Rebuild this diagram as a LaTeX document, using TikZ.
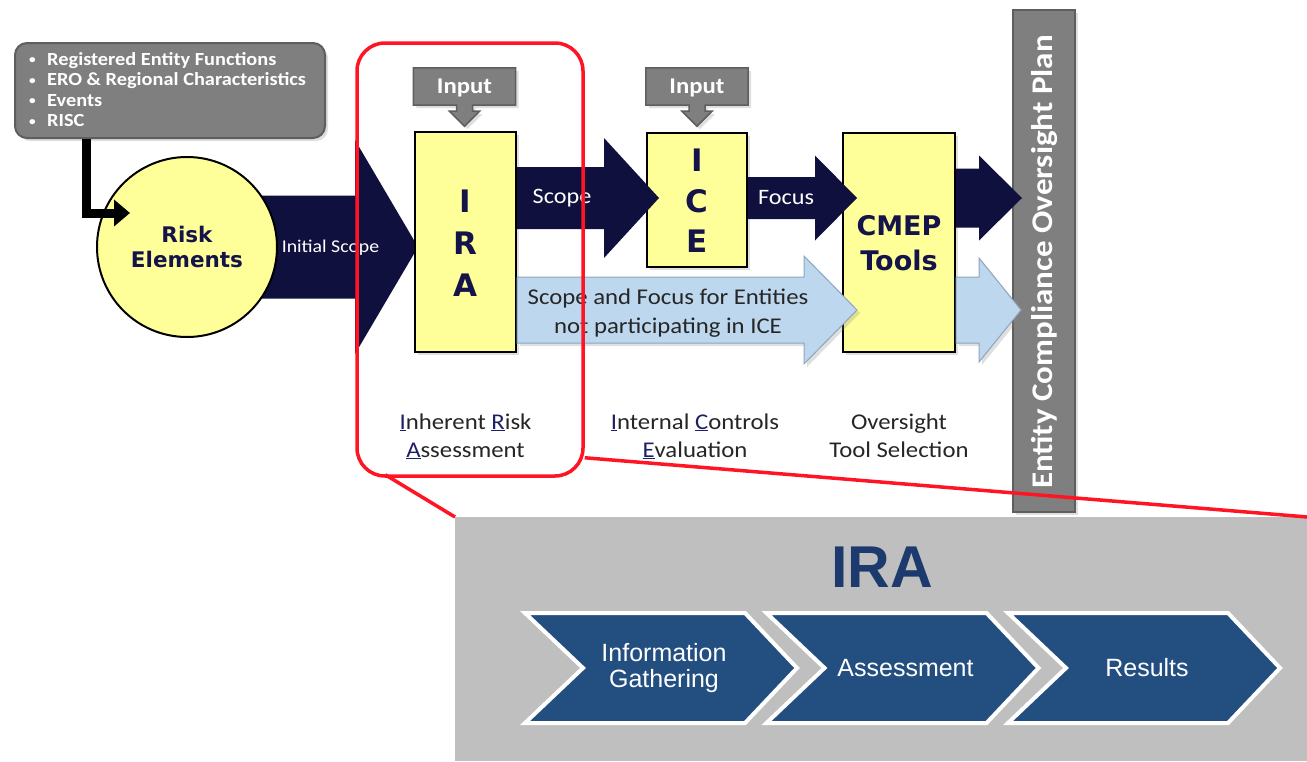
\documentclass[tikz,border=0pt]{standalone}
\usepackage{fontspec}
\setmainfont{Carlito}[FakeStretch=1.1]
\newfontfamily\heavyfont{DejaVu Sans}
\newfontfamily\arialfont{Liberation Sans}
\usetikzlibrary{calc,shadows,backgrounds,arrows.meta}

\definecolor{navyarrow}{HTML}{10103F}
\definecolor{boxyellow}{HTML}{FFFF99}
\definecolor{letternavy}{HTML}{14144A}
\definecolor{calloutgray}{HTML}{7F7F7F}
\definecolor{calloutedge}{HTML}{5E5E5E}
\definecolor{paleblue}{HTML}{BDD7EE}
\definecolor{paleedge}{HTML}{8FA5BF}
\definecolor{framered}{HTML}{FF1424}
\definecolor{panelgray}{HTML}{BFBFBF}
\definecolor{chevblue}{HTML}{234E80}
\definecolor{titleblue}{HTML}{1C3A6E}
\definecolor{labeltext}{HTML}{262626}
\definecolor{ulnavy}{HTML}{1E1E66}

% underlined, coloured initial of an acronym
\newcommand\initial[1]{\textcolor{ulnavy}{\underline{#1}}}
\newcommand\bulletmark{\makebox[18pt][l]{\raisebox{1.5pt}{\fontsize{12}{12}\selectfont\textbullet}}}

% horizontal block arrow: style, start, tip, shaft half-height, head half-height, head length
\newcommand\blockarrow[6]{%
  \path[#1] let \p1=(#2), \p2=(#3) in
    (\x1,\y1+#4pt) -- (\x2-#6pt,\y1+#4pt) -- (\x2-#6pt,\y1+#5pt) -- (\x2,\y1)
    -- (\x2-#6pt,\y1-#5pt) -- (\x2-#6pt,\y1-#4pt) -- (\x1,\y1-#4pt) -- cycle;}

% grey "Input" callout around a text node, pointing down
\newcommand\calloutshape[1]{%
  \path[calloutfill] (#1.north west) -- (#1.north east) -- (#1.south east)
    -- ([xshift=8]#1.south) -- ([xshift=8,yshift=-6]#1.south)
    -- ([xshift=15,yshift=-6]#1.south) -- ([yshift=-21]#1.south)
    -- ([xshift=-15,yshift=-6]#1.south) -- ([xshift=-8,yshift=-6]#1.south)
    -- ([xshift=-8]#1.south) -- (#1.south west) -- cycle;}

% one step of the process chevron row: left x, node name, text
\newcommand\chevronstep[3]{%
  \path[chevfill] (#1,613) -- ({#1+220},613) -- ({#1+272},668) -- ({#1+220},723)
    -- (#1,723) -- ({#1+58},668) -- cycle;
  \node[chevtext] (#2) at ({#1+139},668) {#3};}

\tikzset{
  boxshadow/.style={drop shadow={shadow xshift=3pt, shadow yshift=-3pt, opacity=0.25}},
  yellowbox/.style={draw=black, line width=2pt, fill=boxyellow, inner sep=0pt, boxshadow},
  bigletter/.style={anchor=base, inner sep=0pt, text=letternavy,
    font=\heavyfont\bfseries\fontsize{31}{31}\selectfont},
  cmepletter/.style={anchor=base, inner sep=0pt, text=letternavy,
    font=\heavyfont\bfseries\fontsize{27}{27}\selectfont},
  riskcircle/.style={circle, draw=black, line width=2pt, fill=boxyellow,
    minimum size=180pt, inner sep=0pt},
  risktext/.style={anchor=base, inner sep=0pt, text=letternavy,
    font=\heavyfont\bfseries\fontsize{21.5}{22}\selectfont},
  factbox/.style={draw=calloutedge, line width=2pt, fill=calloutgray,
    rounded corners=12pt, inner sep=0pt, boxshadow},
  facttext/.style={anchor=base west, inner sep=0pt, text=white,
    font=\bfseries\fontsize{18.5}{20}\selectfont},
  elbow/.style={line width=9pt, line join=miter, -{Triangle[length=16pt,width=26pt]}},
  navyfill/.style={fill=navyarrow},
  palefill/.style={fill=paleblue, draw=paleedge, line width=1pt, boxshadow},
  arrowtext/.style={inner sep=0pt, text=white, font=\fontsize{22}{24}\selectfont},
  smallarrowtext/.style={inner sep=0pt, text=white, font=\fontsize{18}{20}\selectfont},
  paletext/.style={anchor=base, inner sep=0pt, text=labeltext, font=\fontsize{22.5}{28}\selectfont},
  inputlabel/.style={inner sep=0pt, text=white, minimum width=102pt, minimum height=37pt,
    text depth=0pt, font=\bfseries\fontsize{22.5}{24}\selectfont},
  calloutfill/.style={fill=calloutgray, draw=calloutedge, line width=1.5pt, boxshadow},
  planbar/.style={fill=calloutgray, draw=calloutedge, line width=2pt, inner sep=0pt, boxshadow},
  plantext/.style={inner sep=0pt, text=white, font=\bfseries\fontsize{30}{32}\selectfont},
  steplabel/.style={anchor=base, inner sep=0pt, text=labeltext, font=\fontsize{22.5}{28}\selectfont},
  panelbox/.style={fill=panelgray, inner sep=0pt, anchor=north west},
  chevfill/.style={fill=chevblue, draw=white, line width=4pt, line join=miter},
  chevtext/.style={inner sep=0pt, text=white, align=center,
    font=\arialfont\fontsize{25}{26}\selectfont},
  titletext/.style={anchor=base, inner sep=0pt, text=titleblue,
    font=\arialfont\bfseries\fontsize{59}{60}\selectfont},
  framebox/.style={draw=framered, line width=3.5pt, rounded corners=28pt, inner sep=0pt},
  redline/.style={draw=framered, line width=3.5pt},
}

\begin{document}
\begin{tikzpicture}[x=1pt,y=-1pt]
\useasboundingbox (0,0) rectangle (1307,761);
\begin{pgfonlayer}{background}
  \fill[white] (0,0) rectangle (1307,761);
\end{pgfonlayer}

% row guides for the horizontal arrows
\coordinate (rowA) at (0,198);
\coordinate (rowB) at (0,310);

% risk elements and the initial scope arrow behind it
\node[riskcircle] (risk) at (187,247) {};
\coordinate (tipInit) at (418,247);
\begin{pgfonlayer}{background}
  \blockarrow{navyfill}{risk.center}{tipInit}{51.5}{107}{63}
\end{pgfonlayer}
\node[risktext] (riskA) at (187,242) {Risk};
\node[risktext] (riskB) at (187,267) {Elements};
\node[smallarrowtext] (initscope) at (330.5,248) {Initial Scope};

% source list feeding the risk elements
\node[factbox, minimum width=310pt, minimum height=95pt] (facts) at (170,90.5) {};
\node[facttext] (fact1) at (29,65) {\bulletmark Registered Entity Functions};
\node[facttext] (fact2) at (29,85.5) {\bulletmark ERO \& Regional Characteristics};
\node[facttext] (fact3) at (29,106) {\bulletmark Events};
\node[facttext] (fact4) at (29,126.5) {\bulletmark RISC};
\coordinate (elbowtip) at (130,213);
\draw[elbow] ([xshift=72]facts.south west) |- (elbowtip);

% process boxes
\node[yellowbox, minimum width=101pt, minimum height=220pt] (ira) at (465.5,242) {};
\node[bigletter] (iraI) at (465.5,212) {I};
\node[bigletter] (iraR) at (465.5,254) {R};
\node[bigletter] (iraA) at (465.5,296) {A};

\node[yellowbox, minimum width=100pt, minimum height=134pt] (ice) at (697,200) {};
\node[bigletter] (iceI) at (697,171) {I};
\node[bigletter] (iceC) at (697,212) {C};
\node[bigletter] (iceE) at (697,252) {E};

\node[yellowbox, minimum width=112pt, minimum height=219pt] (cmep) at (899,242.5) {};
\node[cmepletter] (cmepA) at (899,235) {CMEP};
\node[cmepletter] (cmepB) at (899,270) {Tools};

% oversight plan bar
\node[planbar, minimum width=62pt, minimum height=502pt] (plan) at (1044,261) {};
\node[plantext, rotate=90] (plantitle) at (1044,262) {Entity Compliance Oversight Plan};

% inputs
\node[inputlabel] (inA) at (464.5,86.5) {Input};
\node[inputlabel] (inB) at (697,86.5) {Input};
\begin{pgfonlayer}{background}
  \calloutshape{inA}
  \calloutshape{inB}
\end{pgfonlayer}

% flow arrows
\coordinate (tipScope) at ($(ice.west |- rowA)+(13,0)$);
\coordinate (tipFocus) at ($(cmep.west |- rowA)+(15,0)$);
\coordinate (tipPlan)  at ($(plan.west |- rowA)+(10,0)$);
\coordinate (tipPaleA) at ($(cmep.west |- rowB)+(15,0)$);
\coordinate (tipPaleB) at ($(plan.west |- rowB)+(9,0)$);
\blockarrow{navyfill}{ira.east |- rowA}{tipScope}{31}{60}{55}
\blockarrow{navyfill}{ice.east |- rowA}{tipFocus}{21}{42.5}{42}
\blockarrow{navyfill}{cmep.east |- rowA}{tipPlan}{29.5}{42.5}{43}
\blockarrow{palefill}{ira.east |- rowB}{tipPaleA}{33}{54}{53}
\blockarrow{palefill}{cmep.east |- rowB}{tipPaleB}{33}{52}{42}
\node[arrowtext] (scopetxt) at (562,198) {Scope};
\node[arrowtext] (focustxt) at (786,198) {Focus};
\node[paletext] (paleA) at (668,304) {Scope and Focus for Entities};
\node[paletext] (paleB) at (668,333) {not participating in ICE};

% step names
\node[steplabel] (lblIraA) at (465.5,429) {\initial{I}nherent \initial{R}isk};
\node[steplabel] (lblIraB) at (465.5,457) {\initial{A}ssessment};
\node[steplabel] (lblIceA) at (695,429) {\initial{I}nternal \initial{C}ontrols};
\node[steplabel] (lblIceB) at (695,457) {\initial{E}valuation};
\node[steplabel] (lblCmepA) at (899,429) {Oversight};
\node[steplabel] (lblCmepB) at (899,457) {Tool Selection};

% IRA detail panel
\node[panelbox, minimum width=852pt, minimum height=244pt] (panel) at (455,517) {};
\node[titletext] (iratitle) at (882,587) {IRA};
\chevronstep{525}{stepA}{Information\\Gathering}
\chevronstep{766.5}{stepB}{Assessment}
\chevronstep{1008}{stepC}{Results}

% highlight frame and zoom lines
\node[framebox, minimum width=226pt, minimum height=433pt] (frame) at (470,259.5) {};
\draw[redline] ($(frame.south west)+(30,-3)$) -- (panel.north west);
\draw[redline] ($(frame.south east)+(0,-20)$) -- (panel.north east);
\end{tikzpicture}
\end{document}
